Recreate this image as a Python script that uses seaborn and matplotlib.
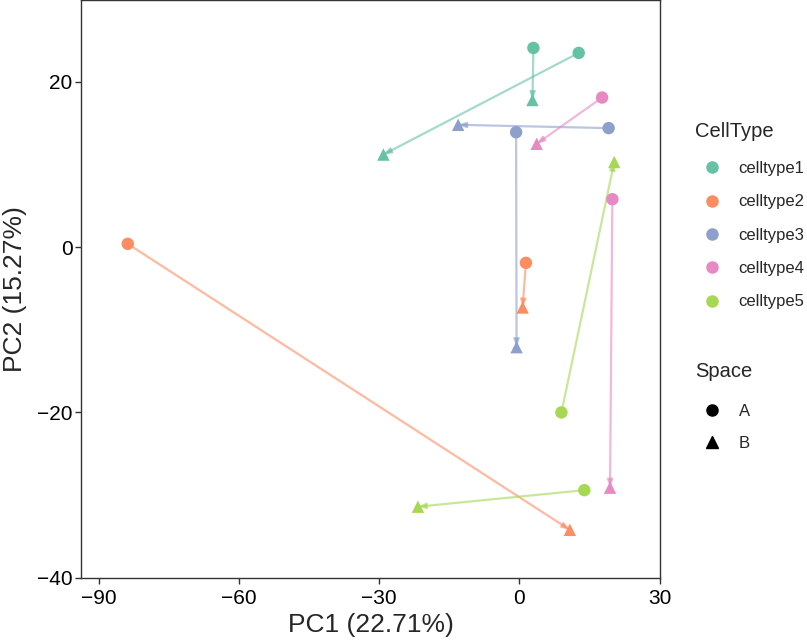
import matplotlib
matplotlib.use("Agg")
import matplotlib.pyplot as plt
from matplotlib.lines import Line2D
import seaborn as sns
import pandas as pd

sns.set_theme(style="white")
plt.rcParams['font.family'] = ['Liberation Sans', 'DejaVu Sans']

# one row per A -> B pair
cell_types = ["celltype1", "celltype1", "celltype2", "celltype2", "celltype3",
              "celltype3", "celltype4", "celltype4", "celltype5", "celltype5"]
pc1_a = [3.0, 12.7, -83.8, 1.4, -0.7, 19.1, 17.7, 19.9, 9.0, 13.9]
pc2_a = [24.1, 23.5, 0.4, -1.9, 13.9, 14.4, 18.1, 5.8, -20.0, -29.4]
pc1_b = [2.8, -29.1, 10.8, 0.7, -0.6, -13.1, 3.7, 19.4, 20.3, -21.7]
pc2_b = [17.8, 11.2, -34.2, -7.3, -12.1, 14.8, 12.5, -29.1, 10.3, -31.4]

levels = ["celltype1", "celltype2", "celltype3", "celltype4", "celltype5"]
palette = dict(zip(levels, sns.color_palette("Set2", 5)))

pairs = pd.DataFrame({"CellType": cell_types, "x0": pc1_a, "y0": pc2_a,
                      "x1": pc1_b, "y1": pc2_b})
points = pd.concat([
    pd.DataFrame({"CellType": cell_types, "PC1": pc1_a, "PC2": pc2_a, "Space": "A"}),
    pd.DataFrame({"CellType": cell_types, "PC1": pc1_b, "PC2": pc2_b, "Space": "B"}),
], ignore_index=True)

fig = plt.figure(figsize=(8.07, 6.41), dpi=100)
ax = fig.add_axes([0.1004, 0.098, 0.7175, 0.902])

# arrows from A to B
for _, r in pairs.iterrows():
    ax.annotate("", xy=(r.x1, r.y1), xytext=(r.x0, r.y0),
                arrowprops=dict(arrowstyle="-|>,head_length=0.35,head_width=0.13",
                                color=palette[r.CellType], alpha=0.6, lw=1.6,
                                shrinkA=0, shrinkB=0),
                zorder=1)

sns.scatterplot(data=points, x="PC1", y="PC2", hue="CellType", style="Space",
                palette=palette, markers={"A": "o", "B": "^"}, s=80,
                edgecolor="none", legend=False, ax=ax, zorder=3)

ax.set_xlim(-93.8, 30.1)
ax.set_ylim(-40.05, 29.9)
ax.set_xticks([-90, -60, -30, 0, 30])
ax.set_yticks([-40, -20, 0, 20])
ax.set_xticklabels(["\u221290", "\u221260", "\u221230", "0", "30"])
ax.set_yticklabels(["\u221240", "\u221220", "0", "20"])
ax.tick_params(axis="both", direction="out", length=4, width=1, color="#333333",
               labelsize=15, labelcolor="black", bottom=True, left=True, pad=2)
ax.tick_params(axis="x", pad=3.5)
for sp in ax.spines.values():
    sp.set_color("#333333")
    sp.set_linewidth(1)
ax.set_xlabel("PC1 (22.71%)", fontsize=19, labelpad=4)
ax.set_ylabel("PC2 (15.27%)", fontsize=19, labelpad=7)

# legends: titles as separate texts so the gap can be matched
fig.text(0.861, 0.7956, "CellType", fontsize=14.5, va="center", ha="left")
fig.text(0.861, 0.4197, "Space", fontsize=14.5, va="center", ha="left")

ct_handles = [Line2D([], [], marker="o", linestyle="", color=palette[c],
                     markersize=8, label=c) for c in levels]
fig.legend(handles=ct_handles, loc="upper left", bbox_to_anchor=(0.843, 0.772),
           frameon=False, fontsize=12, handletextpad=0.6, labelspacing=1.1,
           handlelength=2.0)
sp_handles = [Line2D([], [], marker=m, linestyle="", color="black",
                     markersize=8, label=l) for m, l in [("o", "A"), ("^", "B")]]
fig.legend(handles=sp_handles, loc="upper left", bbox_to_anchor=(0.843, 0.393),
           frameon=False, fontsize=12, handletextpad=0.6, labelspacing=1.0,
           handlelength=2.0)

fig.savefig("out.png", dpi=100)
